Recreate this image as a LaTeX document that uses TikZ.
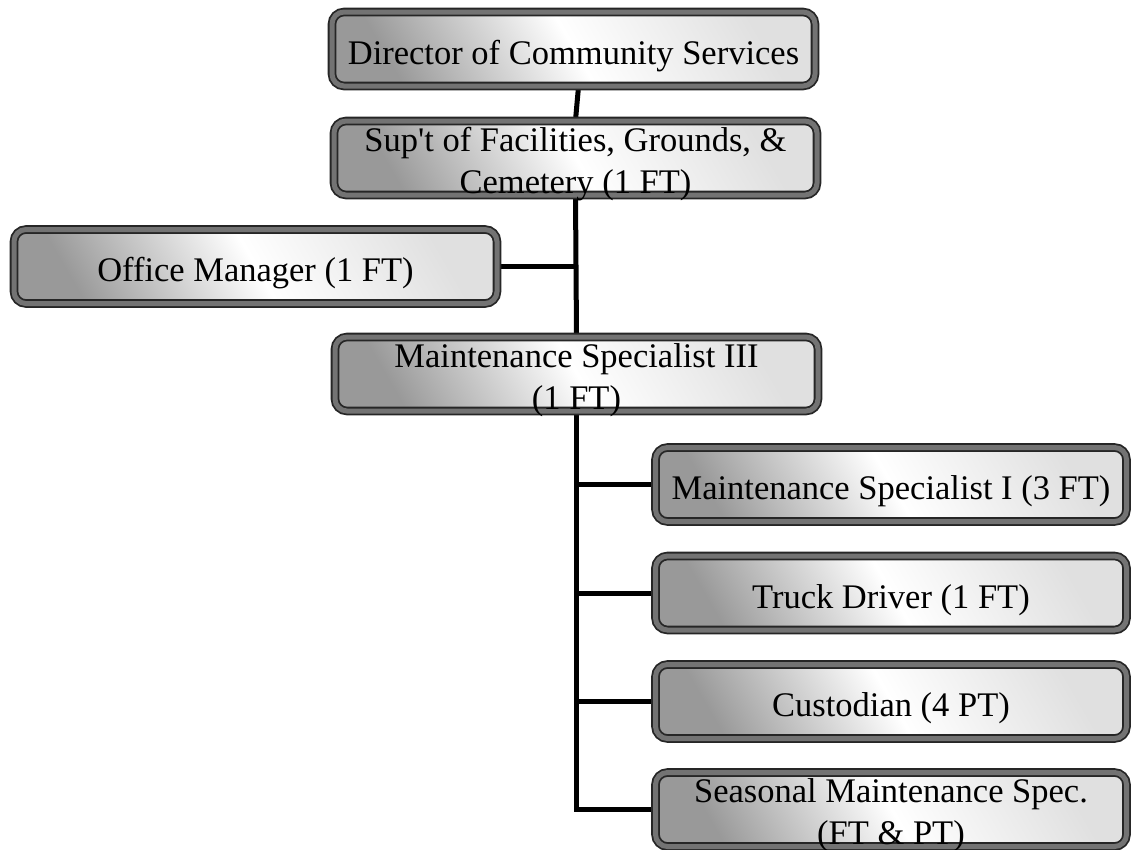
\documentclass[tikz,border=0pt]{standalone}
\usepackage{fontspec}
\setmainfont{Liberation Serif}
\usepackage{tikz}
\usetikzlibrary{backgrounds}
\newcommand\orgfont{\fontsize{34.5}{42}\selectfont}
\tikzset{
	lift/.style={execute at begin node={\rule{0pt}{#1}}},
	orgbox/.style={draw=black!85, line width=1.8pt, double=black!55, double distance=5pt,
		rounded corners=12pt, top color=black!12, bottom color=black!40, middle color=white,
		shading angle=-60, minimum height=74pt, inner sep=0pt, align=center, font=\orgfont,
		lift=38pt},
	twoline/.style={execute at begin node={}, text height=72pt, text depth=1.5pt},
	wide/.style={minimum width=483pt},
	narrow/.style={minimum width=471pt},
	link/.style={line width=5pt, black}
}

\begin{document}
\begin{tikzpicture}[x=1pt, y=-1pt]
		\useasboundingbox (0,0) rectangle (1132,849);
		%\node[orgbox] (dir) {Director};
		\node[orgbox, wide] (dir) at (573.5,49) {Director of Community Services};
		\node[orgbox, wide, twoline] (sup) at (575.5,158) {Sup\textquotesingle t of Facilities, Grounds, \&\\Cemetery (1 FT)};
		\node[orgbox, wide] (off) at (255.5,266.5) {Office Manager (1 FT)};
		\node[orgbox, wide, twoline] (mthree) at (576.5,374) {Maintenance Specialist III\\(1 FT)};
		\node[orgbox, narrow] (mone) at (891,484.5) {Maintenance Specialist I (3 FT)};
		\node[orgbox, narrow] (truck) at (891,593) {Truck Driver (1 FT)};
		\node[orgbox, narrow] (cust) at (891,701.5) {Custodian (4 PT)};
		\node[orgbox, narrow, twoline] (seas) at (891,809.5) {Seasonal Maintenance Spec.\\(FT \& PT)};
		\begin{scope}[on background layer]
		\draw[link] ([xshift=5pt]dir.south) -- (sup.north);
		\draw[link] (sup.south) -- (mthree.north);
		\draw[link] (off.east) -- (off.east -| mthree.north);
		\draw[link] (mthree.south) |- (seas.west);
		\draw[link] (mone.west -| mthree.south) -- (mone.west);
		\draw[link] (truck.west -| mthree.south) -- (truck.west);
		\draw[link] (cust.west -| mthree.south) -- (cust.west);
		\end{scope}
		\end{tikzpicture}
\end{document}
